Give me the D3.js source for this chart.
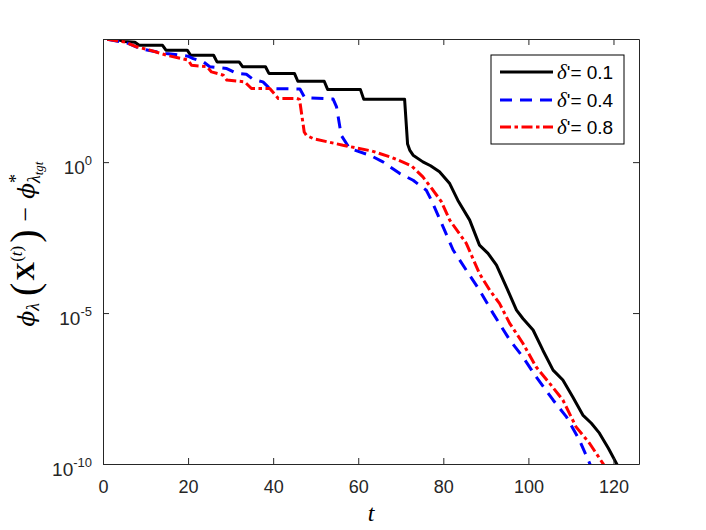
<!DOCTYPE html>
<html>
<head>
<meta charset="utf-8">
<script src="https://cdn.jsdelivr.net/npm/d3@7"></script>
<style>
  html, body { margin: 0; padding: 0; background: #fff; }
  svg { display: block; }
</style>
</head>
<body>
<svg id="chart" width="706" height="530"></svg>
<script>
// ---- data ----
const tBlack = [1, 3.5, 5, 7.5, 8.5, 14, 14.8, 19.8, 20.6, 26, 26.8, 32, 32.8, 38.2, 39, 45, 45.8, 52, 52.8, 60.5, 61.3, 70.9, 71.6, 72.1, 72.9, 75.2, 77, 79.1, 81.5, 83.4, 86.2, 88.5, 90.5, 92.5, 94.8, 97.2, 98.7, 101.1, 103.4, 105.8, 108.1, 110.4, 112.8, 114.8, 116.7, 118.8, 120.7, 121.5];
const vBlack = [1.17e4, 1.12e4, 1.0e4, 9.33e3, 7.41e3, 7.41e3, 5.13e3, 5.13e3, 3.47e3, 3.47e3, 2.09e3, 2.09e3, 1.45e3, 1.45e3, 871, 871, 479, 479, 257, 257, 120, 120, 3.98, 2.51, 1.70, 1.02, 0.759, 0.479, 0.195, 0.0550, 0.0120, 1.78e-3, 9.55e-4, 3.89e-4, 7.41e-5, 1.26e-5, 6.61e-6, 2.75e-6, 5.89e-7, 1.29e-7, 6.03e-8, 1.70e-8, 4.17e-9, 2.24e-9, 1.05e-9, 3.31e-10, 1.05e-10, 6.31e-11];

const tBlue = [1, 5.6, 8.7, 13.4, 14.8, 20, 21.2, 23.6, 25.1, 29.1, 31.4, 33.7, 35.3, 37.6, 39.2, 46.3, 47.4, 54.1, 54.9, 56.0, 58.0, 62.9, 65.8, 69.7, 72.9, 76.0, 77.2, 79.5, 82.3, 85.4, 88.5, 91.7, 95.6, 98.7, 101.8, 105.8, 108.9, 112, 114.4, 115];
const vBlue = [1.17e4, 8.91e3, 5.75e3, 4.27e3, 3.98e3, 3.24e3, 2.69e3, 2.09e3, 1.45e3, 1.26e3, 871, 813, 550, 457, 275, 263, 138, 123, 67.6, 7.76, 2.82, 1.66, 1.02, 0.427, 0.251, 0.117, 0.0550, 0.0100, 1.23e-3, 2.63e-4, 5.75e-5, 9.77e-6, 1.29e-6, 3.55e-7, 7.76e-8, 1.32e-8, 3.72e-9, 6.17e-10, 1.05e-10, 6.31e-11];

const tRed = [1, 5.2, 7.9, 11, 15, 20, 20.8, 24.4, 25.5, 28.3, 29.1, 33.3, 34.9, 39.2, 41.2, 45.5, 46.2, 47.3, 47.8, 49.4, 56.4, 63.2, 68, 72.5, 75.2, 77.6, 79.5, 81.5, 85.4, 88.5, 90.9, 93.2, 95.6, 98.7, 101.8, 105, 108.1, 111.2, 114.4, 117.5, 118.5];
const vRed = [1.17e4, 9.55e3, 6.61e3, 5.13e3, 3.47e3, 2.40e3, 1.62e3, 1.45e3, 977, 759, 525, 457, 275, 275, 129, 129, 120, 10, 7.76, 6.03, 3.63, 2.34, 1.41, 0.759, 0.324, 0.117, 0.0501, 0.0120, 2.04e-3, 2.04e-4, 5.75e-5, 2.09e-5, 4.57e-6, 1.0e-6, 1.66e-7, 4.68e-8, 1.32e-8, 1.70e-9, 4.79e-10, 1.05e-10, 6.31e-11];

const seriesNames = ["0.1", "0.4", "0.8"];
const xTicks = [0, 20, 40, 60, 80, 100, 120];
const yTicks = [1e-10, 1e-5, 1e0];
const yTickExps = ["-10", "-5", "0"];
const xDomain = [0, 126];
const yDomain = [1e-10, 1.2e4];

// ---- layout ----
const svg = d3.select("#chart");
const W = 706, H = 530;
const m = { left: 103, right: 67, top: 39, bottom: 66 };
const iw = W - m.left - m.right, ih = H - m.top - m.bottom;
const axisColor = "#262626";
const sans = "Liberation Sans, Arial, sans-serif";
const serif = "Liberation Serif, Times New Roman, serif";
const phiFont = "DejaVu Serif, serif";

const x = d3.scaleLinear().domain(xDomain).range([0, iw]);
const y = d3.scaleLog().domain(yDomain).range([ih, 0]);

const g = svg.append("g").attr("transform", `translate(${m.left},${m.top})`);

g.append("defs").append("clipPath").attr("id", "clip")
  .append("rect").attr("width", iw).attr("height", ih);

// ---- lines ----
const styles = [
  { t: tBlack, v: vBlack, color: "#000000", dash: null },
  { t: tBlue, v: vBlue, color: "#0000ff", dash: "12,8" },
  { t: tRed, v: vRed, color: "#ff0000", dash: "11,3.5,3.5,3.5" }
];
const line = d3.line().x(d => x(d[0])).y(d => y(d[1]));
const plot = g.append("g").attr("clip-path", "url(#clip)");
styles.forEach(s => {
  const pts = s.t.map((t, i) => [t, s.v[i]]);
  plot.append("path")
    .attr("d", line(pts))
    .attr("fill", "none")
    .attr("stroke", s.color)
    .attr("stroke-width", 3)
    .attr("stroke-linejoin", "round")
    .attr("stroke-dasharray", s.dash);
});

// ---- axes ----
const tickLen = 6;
const styleAxis = sel => {
  sel.select(".domain").attr("stroke", axisColor).attr("stroke-width", 1);
  sel.selectAll(".tick line").attr("stroke", axisColor).attr("stroke-width", 1);
};

const xb = g.append("g").attr("transform", `translate(0,${ih})`)
  .call(d3.axisBottom(x).tickValues(xTicks).tickSizeInner(-tickLen).tickSizeOuter(0).tickPadding(0));
styleAxis(xb);
xb.selectAll(".tick text")
  .attr("font-family", sans)
  .attr("font-size", 18).attr("fill", axisColor)
  .attr("y", 29).attr("dy", null);

const xt = g.append("g")
  .call(d3.axisTop(x).tickValues(xTicks).tickSizeInner(-tickLen).tickSizeOuter(0).tickFormat(""));
styleAxis(xt);

const yl = g.append("g")
  .call(d3.axisLeft(y).tickValues(yTicks).tickSizeInner(-tickLen).tickSizeOuter(0).tickFormat(""));
styleAxis(yl);
yl.selectAll(".tick").each(function(d, i) {
  const t = d3.select(this).append("text")
    .attr("font-family", sans)
    .attr("fill", axisColor)
    .attr("text-anchor", "end")
    .attr("x", -11).attr("y", 11);
  t.append("tspan").attr("font-size", 19).text("10");
  t.append("tspan").attr("font-size", 13).attr("dy", -9).text(yTickExps[i]);
});

const yr = g.append("g").attr("transform", `translate(${iw},0)`)
  .call(d3.axisRight(y).tickValues(yTicks).tickSizeInner(-tickLen).tickSizeOuter(0).tickFormat(""));
styleAxis(yr);

// ---- axis labels ----
svg.append("text")
  .attr("x", m.left + iw / 2).attr("y", 521)
  .attr("text-anchor", "middle")
  .attr("font-family", serif)
  .attr("font-style", "italic")
  .attr("font-size", 24).attr("fill", "#000")
  .text("t");

const yLab = svg.append("text")
  .attr("transform", `translate(34,244) rotate(-90)`)
  .attr("text-anchor", "middle")
  .attr("font-family", serif)
  .attr("font-size", 26).attr("fill", "#000");
yLab.append("tspan").attr("font-family", phiFont).attr("font-size", 23).attr("font-style", "italic").text("ϕ");
yLab.append("tspan").attr("font-style", "italic").attr("font-size", 18).attr("dy", 5).text("λ");
yLab.append("tspan").attr("dy", -5).attr("dx", 7).attr("font-size", 40).attr("baseline-shift", "-4").text("(");
yLab.append("tspan").attr("font-weight", "bold").attr("dx", 2).text("X");
yLab.append("tspan").attr("font-size", 17).attr("dy", -12).text("(");
yLab.append("tspan").attr("font-size", 17).attr("font-style", "italic").text("t");
yLab.append("tspan").attr("font-size", 17).text(")");
yLab.append("tspan").attr("font-size", 40).attr("dy", 12).attr("dx", 3).attr("baseline-shift", "-4").text(")");
yLab.append("tspan").attr("dx", 8).text("−");
yLab.append("tspan").attr("dx", 8).attr("font-family", phiFont).attr("font-size", 23).attr("font-style", "italic").text("ϕ");
yLab.append("tspan").attr("font-size", 18).attr("dy", -12).text("*");
yLab.append("tspan").attr("font-size", 18).attr("font-style", "italic").attr("dy", 18).attr("dx", -9).text("λ");
yLab.append("tspan").attr("font-size", 13).attr("font-style", "italic").attr("dy", 3).text("tgt");

// ---- legend ----
const lg = svg.append("g");
lg.append("rect")
  .attr("x", 491).attr("y", 55).attr("width", 133).attr("height", 89)
  .attr("fill", "#fff").attr("stroke", "#000").attr("stroke-width", 1);
const rowsY = [72, 100, 127];
styles.forEach((s, i) => {
  lg.append("line")
    .attr("x1", 500).attr("x2", 553).attr("y1", rowsY[i]).attr("y2", rowsY[i])
    .attr("stroke", s.color).attr("stroke-width", 3)
    .attr("stroke-dasharray", s.dash);
  const tx = lg.append("text")
    .attr("x", 557).attr("y", rowsY[i] + 7)
    .attr("font-family", sans)
    .attr("font-size", 19).attr("fill", "#000");
  tx.append("tspan").attr("font-family", serif).attr("font-style", "italic").attr("font-size", 21).text("δ");
  tx.append("tspan").text("'= " + seriesNames[i]);
});
</script>
</body>
</html>
